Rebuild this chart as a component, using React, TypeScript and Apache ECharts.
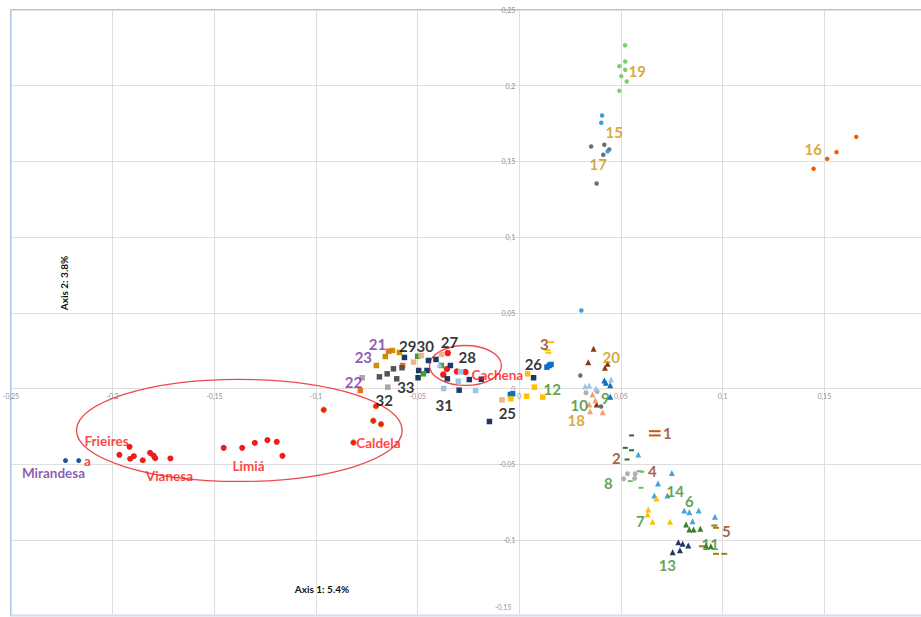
import React, { useEffect, useRef } from "react";
import * as echarts from "echarts";

// ---- Data (Axis 1, Axis 2 coordinates) ----
const mirandesa = [[-0.2232, -0.0476], [-0.2167, -0.0476]];
const frieiresVianesa = [
  [-0.1967, -0.0438], [-0.1917, -0.0385], [-0.1914, -0.0464], [-0.1896, -0.0447],
  [-0.1852, -0.0474], [-0.1816, -0.0425], [-0.1799, -0.0443], [-0.1791, -0.046], [-0.1716, -0.0462],
];
const limia = [
  [-0.1454, -0.0392], [-0.1363, -0.0392], [-0.1301, -0.0359], [-0.1239, -0.0341],
  [-0.1193, -0.0352], [-0.1165, -0.0445],
];
const cachena = [[-0.0352, 0.0234], [-0.0356, 0.0129], [-0.0374, 0.0092], [-0.0307, 0.0112], [-0.0265, 0.0109]];
const caldela = [[-0.0962, -0.0141], [-0.0705, -0.0117], [-0.0718, -0.0213], [-0.068, -0.0236], [-0.0816, -0.0357]];
const goldSquares = [[-0.0624, 0.0251], [-0.0659, 0.0211], [-0.059, 0.0238], [-0.0703, 0.0152]];
const orangeSquares = [[-0.0643, 0.0246], [-0.0782, -0.0013], [-0.0574, 0.0152]];
const navySquares = [
  [-0.0565, 0.0205], [-0.0447, 0.0185], [-0.0495, 0.0119], [-0.0454, 0.0119], [-0.0498, 0.0071],
  [-0.041, 0.0192], [-0.0339, 0.0152], [-0.0354, 0.0064], [-0.0296, -0.0011], [-0.0246, 0.0059],
  [-0.0187, 0.0061], [-0.0147, -0.0218], [0.007, 0.0071],
];
const darkGraySquares = [[-0.0619, 0.013], [-0.065, 0.0097], [-0.0688, 0.0077], [-0.0603, 0.0064], [-0.0577, 0.0137]];
const lightGraySquares = [[-0.0773, 0.0071], [-0.0647, 0.0009]];
const greenSquares = [[-0.05, 0.0213], [-0.0472, 0.0097], [-0.0383, 0.0152]];
const lightOrangeSquares = [[-0.0483, 0.0218], [-0.052, 0.0174], [-0.0382, 0.0225], [-0.0085, -0.0075]];
const lightBlueSquares = [[-0.0372, 0.0], [-0.0289, 0.011], [-0.03, 0.0048], [-0.0215, -0.0013]];
const blueSquares = [[-0.0044, -0.004], [-0.0033, -0.0035], [0.0136, 0.0141], [0.0147, 0.0152], [0.0156, 0.0159]];
const yellowSquares = [[-0.0041, -0.0068], [0.0041, 0.0097], [0.0074, 0.0009], [0.0036, -0.0051], [0.0115, -0.0057]];
const yellowDashes = [[0.0156, 0.0306], [0.0139, 0.0253], [0.0143, 0.0236]];
const brownTriangles = [[0.0365, 0.0262], [0.0339, 0.0174], [0.0434, 0.0163], [0.0421, 0.0137], [0.038, -0.0106]];
const grayDots = [
  [0.03, 0.0086], [0.0402, -0.0119], [0.0353, 0.1598], [0.0418, 0.161], [0.0442, 0.1579],
  [0.0413, 0.1544], [0.038, 0.1354],
];
const lightGrayDots = [[0.0328, -0.0028], [0.0383, -0.002], [0.0513, -0.0596], [0.0532, -0.0563], [0.057, -0.0563], [0.0567, -0.0594]];
const paleBlueTriangles = [[0.0324, 0.0015], [0.0344, 0.002], [0.0377, 0.0], [0.0451, 0.0059], [-0.0393, 0.0159]];
const skyBlueTriangles = [
  [0.0585, -0.0436], [0.075, -0.0558], [0.0682, -0.0627], [0.0664, -0.0707], [0.0728, -0.0707],
  [0.0811, -0.0806], [0.0836, -0.0817], [0.0882, -0.0806], [0.0852, -0.0876], [0.0962, -0.0847],
];
const blueTriangles = [[0.0418, 0.0053], [0.0426, 0.0038], [0.0447, 0.0022], [0.0447, -0.0055]];
const lightOrangeTriangles = [[0.036, -0.004], [0.0344, -0.0106], [0.041, -0.0157], [0.0374, -0.0077], [0.0348, -0.015]];
const rustDashes = [[0.0652, -0.0282], [0.068, -0.0282], [0.0652, -0.031], [0.068, -0.031]];
const darkGreenDashes = [[0.0552, -0.031], [0.0521, -0.0392], [0.0552, -0.0408], [0.053, -0.0469]];
const lightGreenDashes = [[0.059, -0.0546], [0.0603, -0.055], [0.0546, -0.0612], [0.0598, -0.0656]];
const yellowTriangles = [[0.0674, -0.0727], [0.0634, -0.0799], [0.0631, -0.0832], [0.0655, -0.088], [0.0741, -0.088]];
const greenTriangles = [[0.082, -0.0898], [0.0836, -0.0931], [0.0857, -0.0931], [0.089, -0.0927], [0.0918, -0.1037], [0.0942, -0.1042]];
const navyTriangles = [[0.0782, -0.1015], [0.0803, -0.1026], [0.0831, -0.1037], [0.079, -0.1068], [0.0754, -0.1081]];
const goldDashes = [[0.0959, -0.0905], [0.0967, -0.092], [0.0898, -0.1042], [0.0967, -0.1092], [0.1008, -0.1092]];
const lightGreenDots = [[0.052, 0.2267], [0.0521, 0.216], [0.0492, 0.2129], [0.0521, 0.2105], [0.0501, 0.2063], [0.0528, 0.2028], [0.0492, 0.1966]];
const blueDots = [[0.0407, 0.1803], [0.0403, 0.1755], [0.0434, 0.1567], [0.0305, 0.0515]];
const orangeRedDots = [[0.1447, 0.1451], [0.1514, 0.1517], [0.156, 0.1561], [0.1657, 0.1662]];

// Ellipses: [centerX, centerY, radiusX, radiusY]
const ellipses = [[-0.1377, -0.0277, 0.0801, 0.0337], [-0.0265, 0.0152, 0.0177, 0.0132]];

// Tick labels (drawn along the axes crossing at the origin)
const xTicks = [-0.25, -0.2, -0.15, -0.1, -0.05, 0, 0.05, 0.1, 0.15];
const yTicks = [-0.15, -0.1, -0.05, 0, 0.05, 0.1, 0.15, 0.2, 0.25];

// Labels
const labelTexts = [
  "Frieires", "a", "Mirandesa", "Vianesa", "Limiá", "Caldela", "Cachena",
  "21", "23", "22", "2930", "27", "28", "33", "32", "31", "26", "25",
  "3", "12", "20", "10", "9", "18", "1", "2", "4", "8", "14", "6", "7", "5", "11", "13",
  "19", "15", "17", "16",
];
const labelAnchors = [
  [-0.203, -0.035], [-0.2124, -0.0476], [-0.2291, -0.0555], [-0.1721, -0.0575], [-0.1332, -0.0515],
  [-0.0693, -0.0357], [-0.0108, 0.0092],
  [-0.0698, 0.0297], [-0.0767, 0.0211], [-0.0816, 0.004], [-0.0506, 0.0284], [-0.0344, 0.031],
  [-0.0256, 0.0211], [-0.0558, 0.0008], [-0.0664, -0.0073], [-0.0369, -0.0106], [0.0069, 0.0165],
  [-0.0059, -0.0165],
  [0.0123, 0.0297], [0.0162, 0.0], [0.0452, 0.0205], [0.0295, -0.0106], [0.0423, -0.0066],
  [0.028, -0.0211], [0.0728, -0.0297], [0.0477, -0.0462], [0.0654, -0.0542], [0.0438, -0.0627],
  [0.0767, -0.068], [0.0836, -0.0746], [0.0595, -0.0872], [0.1018, -0.0938], [0.0939, -0.1024],
  [0.0728, -0.1169],
  [0.058, 0.21], [0.0467, 0.1697], [0.0388, 0.148], [0.1445, 0.1579],
];
const labelKinds = [
  "red", "red", "purple", "red", "red", "red", "red",
  "purple", "purple", "purple", "black", "black", "black", "black", "black", "black", "black", "black",
  "brown", "green", "gold", "green", "green", "gold", "brown", "brown", "brown", "green", "green", "green",
  "green", "brown", "green", "green",
  "gold", "gold", "gold", "gold",
];
const axis1Title = "Axis 1: 5.4%";
const axis2Title = "Axis 2: 3.8%";

const kindColor: Record<string, string> = {
  red: "#ff1010",
  purple: "#7030a0",
  black: "#000000",
  brown: "#8b3a0f",
  green: "#3a8a2a",
  gold: "#cc9306",
};

const fmt = (v: number) => String(Math.round(v * 100) / 100).replace(".", ",");

export default function App() {
  const ref = useRef<HTMLDivElement>(null);
  useEffect(() => {
    if (!ref.current) return;
    const chart = echarts.init(ref.current, undefined, { renderer: "svg" });

    const pointSeries = (
      name: string,
      data: number[][],
      color: string,
      symbol: string,
      size: number | number[],
      border?: string
    ) => ({
      name,
      type: "scatter",
      data,
      symbol,
      symbolSize: size,
      itemStyle: { color, borderColor: border || color, borderWidth: border ? 0.8 : 0, opacity: 1 },
      z: 3,
    });

    const tickLabelStyle = { fontSize: 7, color: "#6f6f6f", fontFamily: "Lato" };
    const yMin = yTicks[0];

    const series: any[] = [
      {
        type: "custom",
        data: ellipses,
        z: 2,
        renderItem: (params: any, api: any) => {
          const c = api.coord([api.value(0), api.value(1)]);
          const s = api.size([api.value(2), api.value(3)]);
          return {
            type: "ellipse",
            shape: { cx: c[0], cy: c[1], rx: s[0], ry: s[1] },
            style: { fill: "none", stroke: "#f04848", lineWidth: 1.3 },
          };
        },
      },
      {
        type: "scatter",
        name: "x ticks",
        symbolSize: 0,
        z: 1,
        silent: true,
        data: xTicks.map((v) => ({
          value: [v, 0],
          label: { show: true, position: "bottom", distance: 4, formatter: fmt(v), ...tickLabelStyle },
        })),
      },
      {
        type: "scatter",
        name: "y ticks",
        symbolSize: 0,
        z: 1,
        silent: true,
        data: yTicks.map((v) => ({
          value: [0, v],
          label: {
            show: true,
            position: v === yMin ? "insideBottomRight" : "left",
            distance: 4,
            offset: v === yMin ? [-4, -1] : [0, 0],
            formatter: fmt(v),
            ...tickLabelStyle,
          },
        })),
      },
      pointSeries("Mirandesa", mirandesa, "#24509c", "circle", 5),
      pointSeries("Frieires/Vianesa", frieiresVianesa, "#ee1c1c", "circle", 6),
      pointSeries("Limiá", limia, "#ee1c1c", "circle", 6),
      pointSeries("Cachena", cachena, "#ee1c1c", "circle", 6.5),
      pointSeries("Caldela", caldela, "#e8201a", "circle", 5.5, "#e07000"),
      pointSeries("gold sq", goldSquares, "#c69200", "rect", 5.5),
      pointSeries("orange sq", orangeSquares, "#ed7020", "rect", 5.5),
      pointSeries("navy sq", navySquares, "#1f3864", "rect", 5.5),
      pointSeries("dark gray sq", darkGraySquares, "#555555", "rect", 5.5),
      pointSeries("light gray sq", lightGraySquares, "#a6a6a6", "rect", 5.5),
      pointSeries("green sq", greenSquares, "#3f9f3a", "rect", 5.5),
      pointSeries("light orange sq", lightOrangeSquares, "#f4b183", "rect", 5.5),
      pointSeries("light blue sq", lightBlueSquares, "#9dc3e6", "rect", 5.5),
      pointSeries("blue sq", blueSquares, "#0b6fc4", "rect", 5.5),
      pointSeries("yellow sq", yellowSquares, "#ffc000", "rect", 5.5),
      pointSeries("yellow dash", yellowDashes, "#ffc000", "rect", [6, 2]),
      pointSeries("brown tri", brownTriangles, "#8b3a0f", "triangle", 6),
      pointSeries("gray dots", grayDots, "#6e6e6e", "circle", 4.5),
      pointSeries("light gray dots", lightGrayDots, "#b0b0b0", "circle", 5),
      pointSeries("pale blue tri", paleBlueTriangles, "#9dc3e6", "triangle", 6),
      pointSeries("sky blue tri", skyBlueTriangles, "#45a3e0", "triangle", 6),
      pointSeries("blue tri", blueTriangles, "#0b6fc4", "triangle", 6),
      pointSeries("light orange tri", lightOrangeTriangles, "#f4a070", "triangle", 6),
      pointSeries("rust dash", rustDashes, "#c55a11", "rect", [6, 2]),
      pointSeries("dark green dash", darkGreenDashes, "#2f6b2a", "rect", [5, 2]),
      pointSeries("light green dash", lightGreenDashes, "#6cc06a", "rect", [5, 2]),
      pointSeries("yellow tri", yellowTriangles, "#ffc000", "triangle", 6),
      pointSeries("green tri", greenTriangles, "#3a7f28", "triangle", 6),
      pointSeries("navy tri", navyTriangles, "#1f3864", "triangle", 6),
      pointSeries("gold dash", goldDashes, "#a07c10", "rect", [6, 2]),
      pointSeries("light green dots", lightGreenDots, "#80cc70", "circle", 4.5),
      pointSeries("blue dots", blueDots, "#3b9ee0", "circle", 4.5),
      pointSeries("orange-red dots", orangeRedDots, "#f05a0a", "circle", 4.5),
      {
        type: "scatter",
        name: "labels",
        symbolSize: 0,
        z: 5,
        data: labelAnchors.map((p, i) => {
          const isWord = /[a-z]/i.test(labelTexts[i]);
          return {
            value: p,
            name: labelTexts[i],
            label: {
              show: true,
              position: "inside",
              formatter: labelTexts[i],
              color: kindColor[labelKinds[i]],
              fontFamily: "Lato",
              fontWeight: "bold",
              fontSize: isWord ? 13.5 : 15,
              lineHeight: 12,
            },
          };
        }),
      },
    ];

    chart.setOption({
      animation: false,
      backgroundColor: "#ffffff",
      grid: {
        left: 11,
        top: 10,
        width: 915,
        height: 605.6,
        show: true,
        borderColor: "#8fb4d9",
        borderWidth: 1.5,
        backgroundColor: "transparent",
        containLabel: false,
        outerBoundsMode: "none",
      },
      xAxis: {
        type: "value",
        min: -0.25,
        max: 0.2,
        interval: 0.05,
        axisLine: { show: false },
        axisTick: { show: false },
        axisLabel: { show: false },
        splitLine: { show: true, lineStyle: { color: "#dedede", width: 1 } },
      },
      yAxis: {
        type: "value",
        min: -0.15,
        max: 0.25,
        interval: 0.05,
        axisLine: { show: false },
        axisTick: { show: false },
        axisLabel: { show: false },
        splitLine: { show: true, lineStyle: { color: "#dedede", width: 1 } },
      },
      graphic: [
        {
          type: "text",
          x: 322,
          y: 589,
          style: {
            text: axis1Title,
            fontFamily: "Lato",
            fontWeight: "bold",
            fontSize: 10,
            fill: "#111",
            align: "center",
            verticalAlign: "middle",
          },
          z: 10,
        },
        {
          type: "text",
          x: 64,
          y: 283,
          rotation: Math.PI / 2,
          style: {
            text: axis2Title,
            fontFamily: "Lato",
            fontWeight: "bold",
            fontSize: 10,
            fill: "#111",
            align: "center",
            verticalAlign: "middle",
          },
          z: 10,
        },
      ],
      series,
    });
    return () => chart.dispose();
  }, []);
  return <div ref={ref} style={{ position: "fixed", left: 0, top: 0, width: 921, height: 617 }} />;
}
